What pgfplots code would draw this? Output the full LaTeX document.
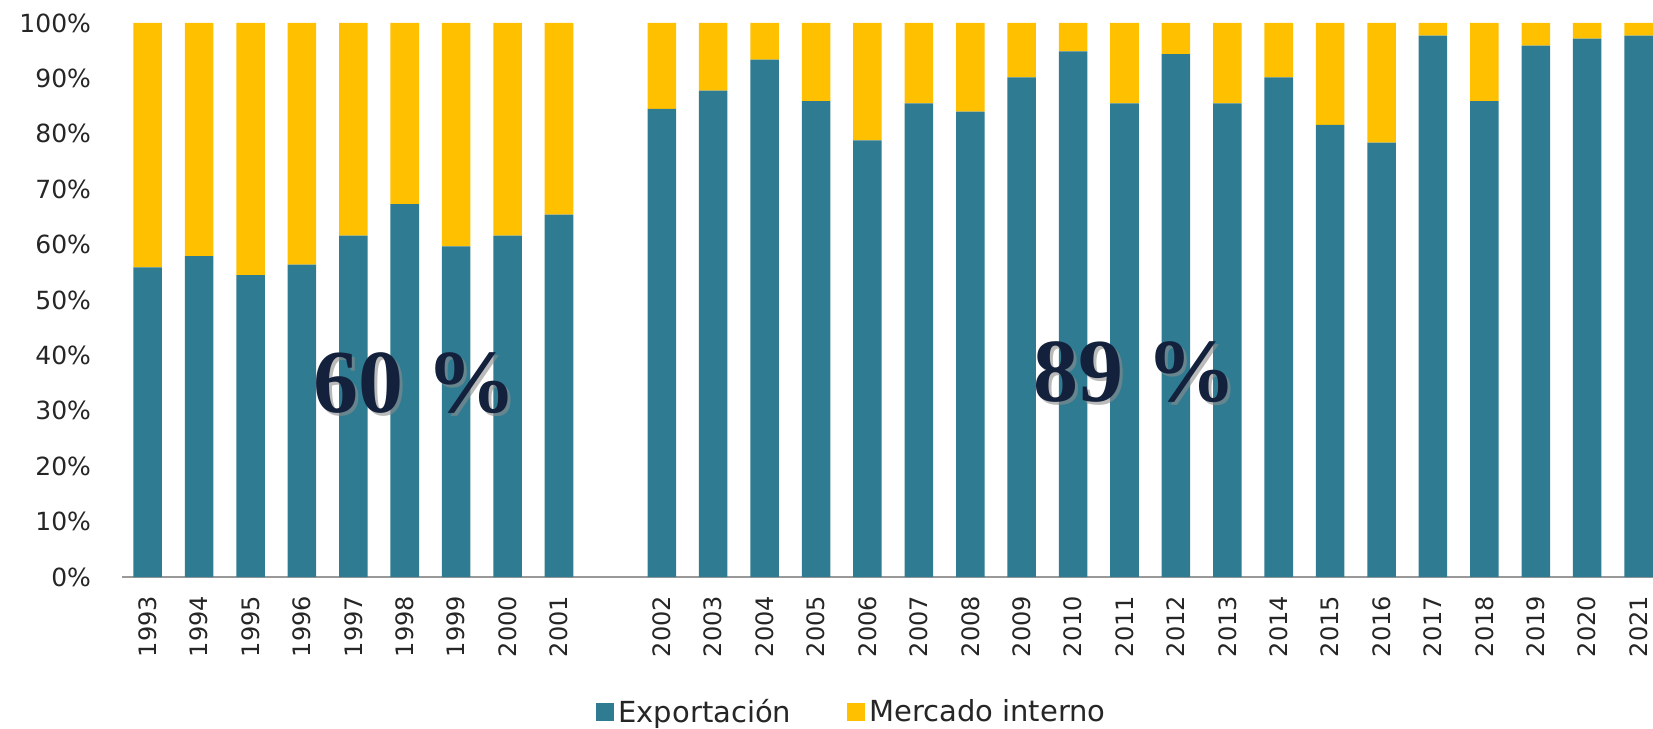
\documentclass[border=0pt]{standalone}
\usepackage{pgfplots}
\pgfplotsset{compat=1.18}
\usepackage{pgfplotstable}
\usepackage{fontspec}
\setmainfont{DejaVu Sans}
\newfontfamily\bigfont{Liberation Serif}
\definecolor{teal1}{HTML}{2F7B91}
\definecolor{gold1}{HTML}{FFC000}
\definecolor{navy1}{HTML}{14213D}
\definecolor{txt}{HTML}{262626}

\pgfplotstableread{
x exp mer
0  55.9 44.1
1  57.9 42.1
2  54.5 45.5
3  56.4 43.6
4  61.6 38.4
5  67.3 32.7
6  59.7 40.3
7  61.6 38.4
8  65.4 34.6
10 84.5 15.5
11 87.8 12.2
12 93.4 6.6
13 85.9 14.1
14 78.8 21.2
15 85.5 14.5
16 84.0 16.0
17 90.2 9.8
18 94.9 5.1
19 85.5 14.5
20 94.4 5.6
21 85.5 14.5
22 90.2 9.8
23 81.6 18.4
24 78.4 21.6
25 97.7 2.3
26 85.9 14.1
27 95.9 4.1
28 97.2 2.8
29 97.7 2.3
}\datatable

\tikzset{bigtxt/.style={font=\bigfont\fontsize{45}{48}\selectfont\bfseries}}

\begin{document}
\begin{tikzpicture}
\begin{axis}[
  scale only axis,
  width=765.5pt, height=277pt,
  xmin=-0.5, xmax=29.28,
  ymin=0, ymax=100,
  ybar stacked,
  bar width=0.555,
  axis x line=bottom,
  axis y line=left,
  axis line style={-},
  x axis line style={draw=black!40, line width=1.2pt},
  y axis line style={draw=none},
  major tick length=0pt,
  tick style={draw=none},
  ytick={0,10,...,100},
  yticklabel={\pgfmathprintnumber{\tick}\%},
  /pgf/number format/assume math mode=true,
  yticklabel style={font=\fontsize{12.5}{14}\selectfont, text=txt, anchor=east, xshift=-12pt},
  xtick={0,1,2,3,4,5,6,7,8,10,11,12,13,14,15,16,17,18,19,20,21,22,23,24,25,26,27,28,29},
  xticklabels={1993,1994,1995,1996,1997,1998,1999,2000,2001,2002,2003,2004,2005,2006,2007,2008,2009,2010,2011,2012,2013,2014,2015,2016,2017,2018,2019,2020,2021},
  xticklabel style={font=\fontsize{12}{14}\selectfont, text=txt, rotate=90, anchor=east, xshift=-6pt},
  legend columns=2,
  legend style={draw=none, at={(0.4775,-0.2437)}, anchor=center,
    font=\fontsize{14.5}{17}\selectfont, text=txt,
    /tikz/every even column/.append style={column sep=26pt}},
  legend image code/.code={\fill[#1] (0pt,-4.5pt) rectangle (9pt,4.5pt);},
  after end axis/.code={
    \node[bigtxt, text=black!45, opacity=0.6] at ([xshift=1.5pt,yshift=-1.5pt]axis cs:5.2,34.9) {60 \%};
    \node[bigtxt, text=navy1] at (axis cs:5.2,34.9) {60 \%};
    \node[bigtxt, text=black!45, opacity=0.6] at ([xshift=1.5pt,yshift=-1.5pt]axis cs:19.2,37.0) {89 \%};
    \node[bigtxt, text=navy1] at (axis cs:19.2,37.0) {89 \%};
  },
]
\addplot[fill=teal1, draw=none] table[x=x, y=exp] {\datatable};
\addplot[fill=gold1, draw=none] table[x=x, y=mer] {\datatable};
\legend{Exportación, Mercado interno}
\end{axis}
\pgfresetboundingbox
\path (-61pt,-75.5pt) rectangle (765.5pt,288.5pt);
\end{tikzpicture}
\end{document}
